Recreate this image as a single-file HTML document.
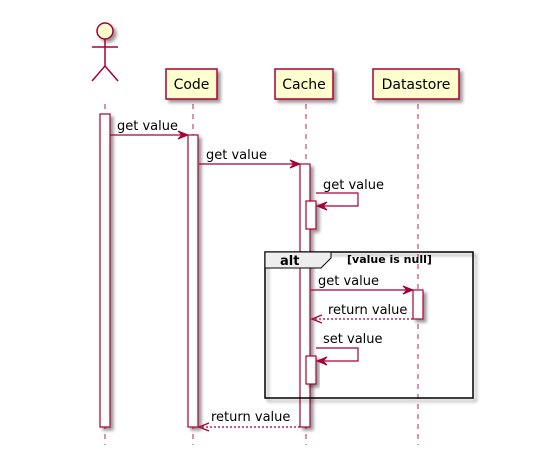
<!DOCTYPE html>
<html><head><style>body{margin:0;background:#fff}svg{display:block}text{font-family:"DejaVu Sans","Liberation Sans",sans-serif;font-size:13px;fill:#000}</style></head>
<body>
<svg width="553" height="465" viewBox="0 0 553 465">
<defs><filter id="s" x="-20%" y="-20%" width="160%" height="160%"><feDropShadow dx="3" dy="3" stdDeviation="1.5" flood-color="#000" flood-opacity="0.4"/></filter></defs>
<g stroke="#A80036" stroke-width="1.2" stroke-dasharray="5,5" opacity="0.7">
<line x1="105" y1="104" x2="105" y2="445"/><line x1="193" y1="104" x2="193" y2="445"/><line x1="306" y1="104" x2="306" y2="445"/><line x1="418" y1="104" x2="418" y2="445"/></g>
<g fill="#FEFECE" stroke="#A80036" stroke-width="1.5" filter="url(#s)">
<circle cx="105" cy="31" r="8"/>
<rect x="166" y="69" width="51" height="30"/><rect x="275" y="69" width="58" height="30"/><rect x="373" y="69" width="86" height="30"/></g>
<g stroke="#A80036" stroke-width="1.5" fill="none"><line x1="105" y1="39" x2="105" y2="66"/><line x1="92" y1="47" x2="118" y2="47"/><polyline points="92,81 105,66 118,81"/></g>
<g text-anchor="middle" style="font-size:14px"><text x="191.5" y="89" style="font-size:14px">Code</text><text x="304" y="89" style="font-size:14px">Cache</text><text x="416" y="89" style="font-size:14px">Datastore</text></g>
<g fill="#fff" stroke="#A80036" stroke-width="1.2" filter="url(#s)">
<rect x="100" y="114" width="10" height="313"/><rect x="188" y="135" width="10" height="292"/><rect x="300" y="164" width="10" height="263"/>
<rect x="306" y="201" width="10" height="28"/><rect x="413" y="290" width="10" height="29"/></g>
<rect x="265" y="252" width="208" height="146" fill="none" stroke="#000" stroke-width="1.5" filter="url(#s)"/>
<rect x="306" y="356" width="10" height="28" fill="#fff" stroke="#A80036" stroke-width="1.2" filter="url(#s)"/>
<polygon points="265,252 331,252 331,258 321,268 265,268" fill="#EEEEEE" stroke="#000" stroke-width="1"/>
<text x="280" y="265" font-weight="bold">alt</text>
<text x="347" y="263" style="font-size:11px;font-weight:bold">[value is null]</text>
<g stroke="#A80036" stroke-width="1.2" fill="none">
<line x1="110" y1="135" x2="186" y2="135"/><line x1="199" y1="164" x2="298" y2="164"/>
<polyline points="316,193 358,193 358,206 318,206"/>
<line x1="311" y1="290" x2="411" y2="290"/>
<line x1="413" y1="319" x2="313" y2="319" stroke-dasharray="2,2"/>
<polyline points="316,348 358,348 358,361 318,361"/>
<line x1="300" y1="427" x2="201" y2="427" stroke-dasharray="2,2"/>
</g>
<g fill="#A80036" stroke="#A80036">
<polygon points="188,135 178,131 182,135 178,139"/><polygon points="300,164 290,160 294,164 290,168"/>
<polygon points="317,206 327,202 323,206 327,210"/><polygon points="413,290 403,286 407,290 403,294"/>
<polygon points="317,361 327,357 323,361 327,365"/></g>
<g fill="none" stroke="#A80036" stroke-width="1.3"><polyline points="322,315 312,319 322,323"/><polyline points="209,423 199,427 209,431"/></g>
<text x="117" y="130">get value</text><text x="206" y="159">get value</text><text x="323" y="189">get value</text>
<text x="318" y="285">get value</text><text x="328" y="314">return value</text><text x="323" y="343">set value</text>
<text x="211" y="421">return value</text>
</svg>
</body></html>
